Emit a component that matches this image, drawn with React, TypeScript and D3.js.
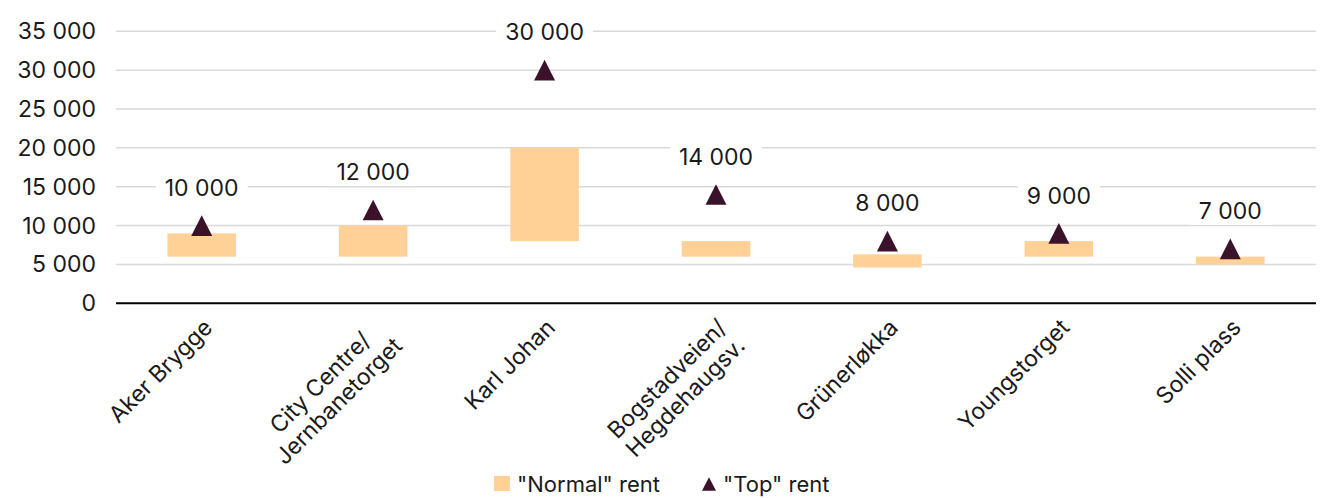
import React, { useEffect, useRef } from "react";
import * as d3 from "d3";

const categories = [
  "Aker Brygge",
  "City Centre/\nJernbanetorget",
  "Karl Johan",
  "Bogstadveien/\nHegdehaugsv.",
  "Grünerløkka",
  "Youngstorget",
  "Solli plass",
];
const normalLow = [6000, 6000, 8000, 6000, 4600, 6000, 5000];
const normalHigh = [9000, 10000, 20000, 8000, 6300, 8000, 6000];
const topRent = [10000, 12000, 30000, 14000, 8000, 9000, 7000];
const yTicks = [0, 5000, 10000, 15000, 20000, 25000, 30000, 35000];
const legendLabels = ['"Normal" rent', '"Top" rent'];

const W = 1325;
const H = 498;
const FONT = "Inter, 'Open Sans', sans-serif";
const BAR = "#FFD196";
const TRI = "#3B1229";
const TEXT = "#1a1a1a";

const fmt = (v: number) => d3.format(",")(v).replace(/,/g, " ");

export default function App() {
  const ref = useRef<SVGSVGElement>(null);

  useEffect(() => {
    const svg = d3.select(ref.current);
    svg.selectAll("*").remove();

    const x = d3.scaleBand<string>().domain(categories).range([116, 1316]).padding(0);
    const y = d3.scaleLinear().domain([0, 35000]).range([303.3, 31.3]);
    const bw = x.bandwidth() * 0.4;

    // gridlines
    svg
      .append("g")
      .selectAll("line")
      .data(yTicks.filter((t) => t > 0))
      .join("line")
      .attr("x1", 116)
      .attr("x2", 1316)
      .attr("y1", (d) => y(d))
      .attr("y2", (d) => y(d))
      .attr("stroke", "#d9d9d9")
      .attr("stroke-width", 1.5);

    // y tick labels
    svg
      .append("g")
      .selectAll("text")
      .data(yTicks)
      .join("text")
      .attr("x", 96)
      .attr("y", (d) => y(d) + 8)
      .attr("text-anchor", "end")
      .attr("font-family", FONT)
      .attr("font-size", 23)
      .attr("fill", TEXT)
      .text((d) => fmt(d));

    // bars (floating)
    svg
      .append("g")
      .selectAll("rect")
      .data(categories)
      .join("rect")
      .attr("x", (d) => (x(d) as number) + x.bandwidth() / 2 - bw / 2)
      .attr("width", bw)
      .attr("y", (_d, i) => y(normalHigh[i]))
      .attr("height", (_d, i) => y(normalLow[i]) - y(normalHigh[i]))
      .attr("fill", BAR);

    // axis line
    svg
      .append("line")
      .attr("x1", 116)
      .attr("x2", 1316)
      .attr("y1", y(0))
      .attr("y2", y(0))
      .attr("stroke", "#000")
      .attr("stroke-width", 2);

    // triangles
    const tri = "M0,-10.3L10.5,10.3L-10.5,10.3Z";
    svg
      .append("g")
      .selectAll("path")
      .data(categories)
      .join("path")
      .attr("d", tri)
      .attr(
        "transform",
        (d, i) => `translate(${(x(d) as number) + x.bandwidth() / 2},${y(topRent[i])})`
      )
      .attr("fill", TRI);

    // data labels with white background
    const lg = svg.append("g");
    categories.forEach((c, i) => {
      const cx = (x(c) as number) + x.bandwidth() / 2;
      const cy = y(topRent[i]) - 38;
      const g = lg.append("g");
      const rect = g.append("rect").attr("fill", "#fff");
      const t = g
        .append("text")
        .attr("x", cx)
        .attr("y", cy + 8.3)
        .attr("text-anchor", "middle")
        .attr("font-family", FONT)
        .attr("font-size", 23)
        .attr("fill", TEXT)
        .text(fmt(topRent[i]));
      const bb = (t.node() as SVGTextElement).getBBox();
      rect
        .attr("x", bb.x - 9)
        .attr("width", bb.width + 18)
        .attr("y", cy - 14)
        .attr("height", 28);
    });

    // category labels
    const cg = svg.append("g");
    categories.forEach((c) => {
      const cx = (x(c) as number) + x.bandwidth() / 2;
      const g = cg.append("g").attr("transform", `translate(${cx},317) rotate(-45)`);
      const lines = c.split("\n");
      const texts = lines.map((ln, i) =>
        g
          .append("text")
          .attr("y", 17 + i * 26)
          .attr("text-anchor", "middle")
          .attr("font-family", FONT)
          .attr("font-size", 23)
          .attr("fill", TEXT)
          .text(ln)
      );
      const maxW = d3.max(texts, (t) => (t.node() as SVGTextElement).getComputedTextLength()) || 0;
      texts.forEach((t) => t.attr("x", -maxW / 2));
    });

    // legend
    const leg = svg.append("g");
    leg.append("rect").attr("x", 494).attr("y", 476).attr("width", 16).attr("height", 15).attr("fill", BAR);
    leg
      .append("text")
      .attr("x", 517)
      .attr("y", 491.5)
      .attr("font-family", FONT)
      .attr("font-size", 22)
      .attr("fill", TEXT)
      .text(legendLabels[0]);
    leg
      .append("path")
      .attr("d", "M0,-6.7L7,6.7L-7,6.7Z")
      .attr("transform", "translate(709,484)")
      .attr("fill", TRI);
    leg
      .append("text")
      .attr("x", 723)
      .attr("y", 491.5)
      .attr("font-family", FONT)
      .attr("font-size", 22)
      .attr("fill", TEXT)
      .text(legendLabels[1]);
  }, []);

  return (
    <svg
      ref={ref}
      width={W}
      height={H}
      style={{ position: "absolute", left: 0, top: 0, background: "#fff" }}
    />
  );
}
